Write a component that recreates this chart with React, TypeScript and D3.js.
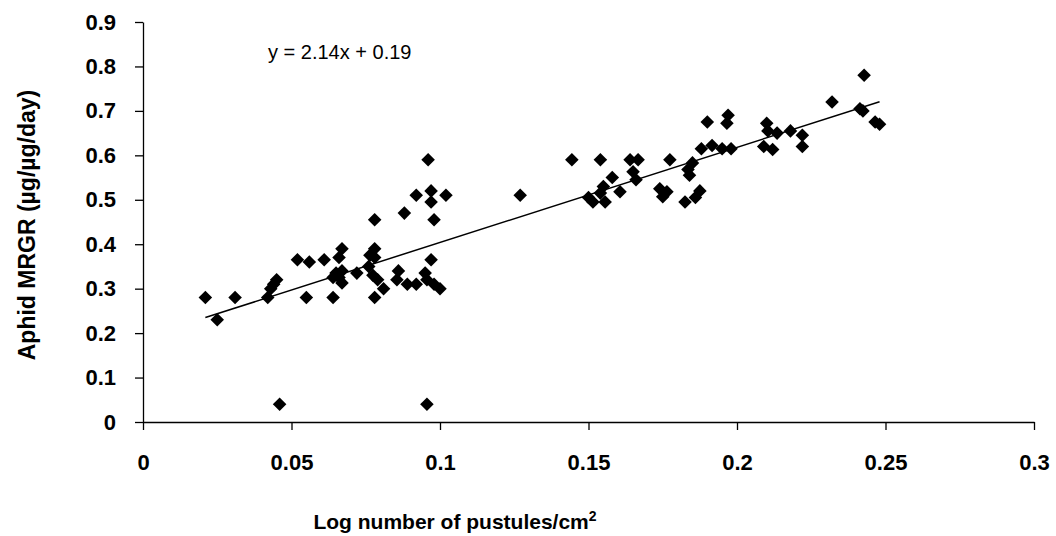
import * as d3 from 'd3';
import { useEffect, useRef } from 'react';

// Log number of pustules/cm2 (x) and aphid MRGR (y)
const pustules = [
  0.021, 0.025, 0.031, 0.042, 0.043, 0.044, 0.045, 0.046, 0.052, 0.056,
  0.055, 0.061, 0.064, 0.064, 0.065, 0.067, 0.066, 0.067, 0.066, 0.067,
  0.072, 0.076, 0.0764, 0.078, 0.078, 0.0774, 0.079, 0.081, 0.078, 0.078,
  0.086, 0.0855, 0.088, 0.089, 0.092, 0.092, 0.0956, 0.095, 0.096, 0.0956,
  0.097, 0.097, 0.097, 0.098, 0.098, 0.1, 0.102,
  0.127, 0.1444, 0.15, 0.1515, 0.154, 0.154, 0.1556, 0.155, 0.158, 0.1606,
  0.164, 0.1667, 0.165, 0.166, 0.174, 0.1764, 0.175, 0.1774, 0.1825, 0.186,
  0.1875, 0.184, 0.1835, 0.185, 0.188, 0.1916, 0.195, 0.198, 0.19, 0.197,
  0.1966, 0.21, 0.2104, 0.209, 0.212, 0.2135, 0.218, 0.222, 0.222, 0.232,
  0.2428, 0.2414, 0.2424, 0.2465, 0.248,
];
const mrgr = [
  0.28, 0.23, 0.28, 0.28, 0.3, 0.31, 0.32, 0.04, 0.365, 0.36,
  0.28, 0.365, 0.28, 0.325, 0.335, 0.313, 0.325, 0.34, 0.37, 0.39,
  0.335, 0.35, 0.375, 0.37, 0.39, 0.33, 0.32, 0.3, 0.28, 0.455,
  0.34, 0.32, 0.47, 0.31, 0.51, 0.31, 0.32, 0.335, 0.59, 0.04,
  0.365, 0.52, 0.495, 0.455, 0.31, 0.3, 0.51,
  0.51, 0.59, 0.505, 0.495, 0.515, 0.59, 0.495, 0.53, 0.55, 0.518,
  0.59, 0.59, 0.563, 0.545, 0.525, 0.518, 0.507, 0.59, 0.495, 0.505,
  0.52, 0.555, 0.568, 0.583, 0.615, 0.622, 0.615, 0.615, 0.675, 0.69,
  0.672, 0.672, 0.655, 0.62, 0.613, 0.65, 0.655, 0.645, 0.62, 0.72,
  0.78, 0.705, 0.7, 0.675, 0.67,
];

const xTicks = [0, 0.05, 0.1, 0.15, 0.2, 0.25, 0.3];
const yTicks = [0, 0.1, 0.2, 0.3, 0.4, 0.5, 0.6, 0.7, 0.8, 0.9];

// trend line y = 2.14x + 0.19 over the data range
const slope = 2.14;
const intercept = 0.19;
const trendRange = [0.021, 0.248];

export default function App() {
  const svgRef = useRef<SVGSVGElement>(null);

  useEffect(() => {
    if (!svgRef.current) return;
    const svg = d3.select(svgRef.current);
    svg.selectAll('*').remove();

    const width = 1056;
    const height = 536;
    const margin = { top: 22, right: 22, bottom: 114, left: 143 };
    const font = 'Arial, "Liberation Sans", sans-serif';

    svg.attr('width', width).attr('height', height);

    const x = d3.scaleLinear().domain([0, 0.3]).range([margin.left, width - margin.right]);
    const y = d3.scaleLinear().domain([0, 0.9]).range([height - margin.bottom, margin.top]);

    // Y axis
    svg
      .append('g')
      .attr('transform', `translate(${margin.left},0)`)
      .call(
        d3
          .axisLeft(y)
          .tickValues(yTicks)
          .tickSize(8)
          .tickSizeOuter(0)
          .tickPadding(19)
          .tickFormat((d) => String(d))
      )
      .call((g) => g.select('.domain').attr('stroke', '#000').attr('stroke-width', 1.3))
      .call((g) => g.selectAll('.tick line').attr('stroke', '#000').attr('stroke-width', 1.3))
      .call((g) =>
        g
          .selectAll('.tick text')
          .attr('fill', '#000')
          .style('font-family', font)
          .style('font-weight', 'bold')
          .style('font-size', '22px')
      );

    // X axis
    svg
      .append('g')
      .attr('transform', `translate(0,${height - margin.bottom})`)
      .call(
        d3
          .axisBottom(x)
          .tickValues(xTicks)
          .tickSize(8)
          .tickSizeOuter(0)
          .tickPadding(24)
          .tickFormat((d) => String(d))
      )
      .call((g) => g.select('.domain').attr('stroke', '#000').attr('stroke-width', 1.3))
      .call((g) => g.selectAll('.tick line').attr('stroke', '#000').attr('stroke-width', 1.3))
      .call((g) =>
        g
          .selectAll('.tick text')
          .attr('fill', '#000')
          .style('font-family', font)
          .style('font-weight', 'bold')
          .style('font-size', '22px')
      );

    // Points
    const diamond = d3.symbol(d3.symbolSquare, 92);
    svg
      .append('g')
      .selectAll('path')
      .data(pustules.map((p, i) => [p, mrgr[i]]))
      .enter()
      .append('path')
      .attr('d', diamond)
      .attr('transform', (d) => `translate(${x(d[0])},${y(d[1])}) rotate(45)`)
      .attr('fill', '#000');

    // Trend line
    const line = d3
      .line<number>()
      .x((d) => x(d))
      .y((d) => y(slope * d + intercept));
    svg
      .append('path')
      .datum(trendRange)
      .attr('d', line)
      .attr('fill', 'none')
      .attr('stroke', '#000')
      .attr('stroke-width', 1.5);

    // Equation label
    svg
      .append('text')
      .attr('x', 268)
      .attr('y', 59)
      .style('font-family', font)
      .style('font-size', '20px')
      .attr('fill', '#000')
      .text('y = 2.14x + 0.19');

    // X title
    const xt = svg
      .append('text')
      .attr('x', 455)
      .attr('y', 529)
      .attr('text-anchor', 'middle')
      .style('font-family', font)
      .style('font-weight', 'bold')
      .style('font-size', '21px')
      .attr('fill', '#000');
    xt.append('tspan').text('Log number of pustules/cm');
    xt.append('tspan').attr('dy', -8).style('font-size', '14px').text('2');

    // Y title
    svg
      .append('text')
      .attr('transform', `translate(35,${(margin.top + height - margin.bottom) / 2 + 3}) rotate(-90)`)
      .attr('text-anchor', 'middle')
      .style('font-family', font)
      .style('font-weight', 'bold')
      .style('font-size', '23px')
      .attr('fill', '#000')
      .text('Aphid MRGR (µg/µg/day)');
  }, []);

  return (
    <div style={{ position: 'absolute', left: 0, top: 0, background: '#fff' }}>
      <svg ref={svgRef} style={{ display: 'block' }} />
    </div>
  );
}
